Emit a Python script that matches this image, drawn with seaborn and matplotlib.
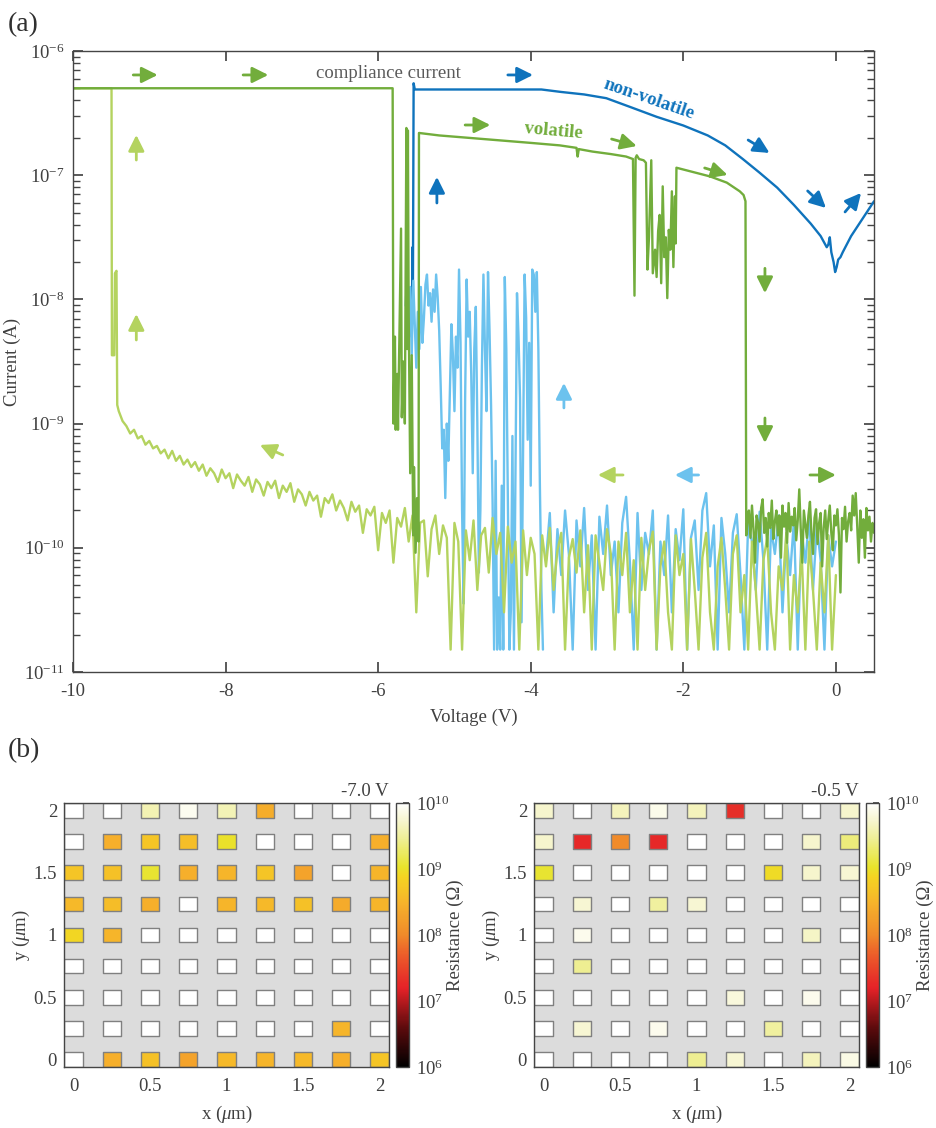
import numpy as np
import pandas as pd
import seaborn as sns
import matplotlib.pyplot as plt
from matplotlib.colors import LinearSegmentedColormap, LogNorm
from matplotlib.cm import ScalarMappable
from matplotlib.path import Path
from matplotlib import ticker

OUT_PATH = "out.png"

C_LG = "#b4d35f"   # light green
C_MG = "#72ad3c"   # green
C_LB = "#6cc2ee"   # light blue
C_DB = "#0f73bc"   # blue
TXT = "#404040"

# ---------------- panel (a): currents stored as log10(I / A) ----------------
# light green sweep, left end (jump to compliance)
LG_HEAD_V = [-10.0, -9.495, -9.49, -9.46, -9.45, -9.43, -9.42]
LG_HEAD_LOG = [-6.30, -6.30, -8.45, -8.45, -7.79, -7.77, -8.85]
# light green sweep, -9.40 V .. 0 V on a 0.05 V grid
LG_V0, LG_V1 = -9.40, 0.00
LG_LOG = [
    -8.90, -8.98, -9.02, -9.08, -9.05, -9.12, -9.10, -9.17, -9.14, -9.20,
    -9.18, -9.24, -9.21, -9.28, -9.22, -9.30, -9.26, -9.33, -9.29, -9.35,
    -9.31, -9.38, -9.33, -9.42, -9.36, -9.40, -9.47, -9.37, -9.44, -9.40,
    -9.52, -9.41, -9.46, -9.50, -9.43, -9.55, -9.45, -9.49, -9.58, -9.47,
    -9.52, -9.46, -9.60, -9.50, -9.55, -9.48, -9.63, -9.53, -9.57, -9.66,
    -9.55, -9.62, -9.58, -9.75, -9.60, -9.64, -9.57, -9.70, -9.62, -9.68,
    -9.78, -9.63, -9.71, -9.66, -9.88, -9.69, -9.74, -9.67, -10.02, -9.72,
    -9.80, -9.70, -10.12, -9.76, -9.83, -9.68, -9.95, -9.74, -10.52, -9.80,
    -9.78, -10.23, -9.85, -9.74, -10.05, -9.82, -9.92, -10.82, -9.80, -9.95,
    -10.82, -9.86, -10.10, -9.78, -10.34, -9.90, -9.84, -10.20, -9.76, -10.05,
    -9.88, -10.52, -9.83, -10.12, -9.95, -10.82, -9.86, -10.22, -9.92, -10.05,
    -10.82, -9.90, -10.15, -9.84, -10.34, -10.02, -9.88, -10.82, -10.08, -9.93,
    -10.20, -9.86, -10.52, -9.98, -10.82, -9.90, -10.12, -10.34, -9.85, -10.05,
    -10.82, -9.95, -10.22, -9.88, -10.52, -10.10, -10.82, -9.92, -10.34, -10.02,
    -9.87, -10.82, -10.15, -9.95, -10.52, -10.82, -9.90, -10.22, -10.05, -10.82,
    -9.93, -10.34, -10.82, -10.08, -9.88, -10.52, -10.82, -10.15, -9.92, -10.34,
    -10.82, -10.05, -9.90, -10.52, -10.22, -10.82, -9.95, -10.34, -10.82, -10.10,
    -9.92, -10.52, -10.82, -10.15, -10.34, -9.88, -10.82, -10.22, -10.52, -10.02,
    -10.82, -9.95, -10.34, -10.82, -10.12, -10.52, -9.90, -10.82, -10.22,
]

# light blue sweep: unstable part (0.02 V grid) then low-current part (0.05 V grid)
LB1_V0, LB1_V1 = -5.64, -3.84
LB1_LOG = [
    -8.05, -7.82, -8.30, -7.90, -8.45, -7.85, -8.20, -8.55, -8.10, -8.40,
    -7.90, -8.35, -8.15, -7.88, -7.80, -8.05, -7.95, -8.18, -7.92, -8.10,
    -7.80, -7.98, -8.25, -8.70, -9.20, -9.05, -9.60, -9.00, -9.30, -8.75,
    -8.20, -8.45, -8.90, -8.30, -8.55, -7.76, -8.35, -9.70, -10.45, -8.80,
    -7.84, -8.30, -8.10, -8.60, -9.40, -8.40, -8.06, -9.00, -10.20, -9.70,
    -8.55, -7.80, -8.40, -8.90, -7.78, -8.25, -8.85, -9.64, -10.82, -9.30,
    -10.82, -10.40, -10.82, -9.50, -10.82, -7.82, -8.40, -9.60, -10.82, -10.50,
    -9.10, -10.82, -9.40, -7.95, -8.30, -8.80, -10.60, -9.20, -7.80, -8.15,
    -9.13, -8.35, -9.50, -7.76, -7.80, -8.10, -7.78, -8.40, -9.50, -10.34,
    -10.82,
]
LB2_V0, LB2_V1 = -3.80, 0.00
LB2_LOG = [
    -10.10, -9.72, -10.52, -9.85, -10.22, -9.70, -10.05, -10.82, -9.78, -10.15,
    -9.68, -10.34, -9.90, -10.82, -9.75, -10.05, -9.66, -10.22, -9.95, -10.52,
    -9.80, -9.59, -10.12, -10.82, -9.72, -10.34, -9.88, -10.05, -9.70, -10.82,
    -9.95, -10.22, -9.74, -10.52, -9.85, -10.10, -9.69, -10.82, -9.92, -9.78,
    -10.34, -9.70, -9.56, -10.15, -9.82, -10.82, -9.76, -10.05, -10.52, -9.88,
    -9.73, -10.22, -10.82, -9.80, -9.95, -10.34, -9.71, -10.10, -10.82, -9.84,
    -10.05, -9.74, -10.52, -9.90, -10.22, -9.78, -10.82, -9.86, -10.12, -9.75,
    -10.34, -9.82, -10.10, -10.82, -9.90, -10.15, -9.95,
]

# blue (non-volatile) return sweep
DB_V = [-5.56, -5.55, -5.545, -5.535, -5.52, -3.86, -3.60, -3.30, -3.01, -2.70,
        -2.35, -2.00, -1.68, -1.45, -1.22, -1.00, -0.77, -0.55, -0.33, -0.20,
        -0.12, -0.10, -0.08, -0.06, -0.03, -0.01, 0.01, 0.03, 0.06, 0.09,
        0.20, 0.35, 0.50]
DB_LOG = [-8.30, -7.58, -8.05, -6.26, -6.31, -6.31, -6.33, -6.35, -6.38, -6.45,
          -6.53, -6.60, -6.68, -6.76, -6.87, -6.98, -7.10, -7.24, -7.39, -7.49,
          -7.58, -7.56, -7.50, -7.62, -7.70, -7.78, -7.74, -7.68, -7.66, -7.62,
          -7.49, -7.35, -7.21]

# green (volatile) return sweep: compliance, switching, volatile branch
MG_V = [-10.0, -5.81, -5.80, -5.78, -5.77, -5.75, -5.74, -5.72, -5.70, -5.69,
        -5.67, -5.65, -5.63, -5.62, -5.61, -5.60, -5.58, -5.56, -5.54, -5.53,
        -5.51, -5.49, -5.47, -5.465, -5.20, -4.80, -4.40, -4.00, -3.62, -3.40,
        -3.385, -3.37, -3.19, -2.95, -2.75, -2.66, -2.64, -2.625, -2.61, -2.58,
        -2.52, -2.49, -2.47, -2.45, -2.42, -2.40, -2.37, -2.35, -2.33, -2.31,
        -2.29, -2.27, -2.25, -2.23, -2.21, -2.19, -2.17, -2.15, -2.13, -2.11,
        -2.10, -2.09, -1.90, -1.65, -1.43, -1.26, -1.21, -1.185, -1.175]
MG_LOG = [-6.30, -6.30, -9.00, -8.30, -9.05, -8.60, -9.05, -8.25, -7.43, -8.95,
          -8.50, -9.00, -6.62, -8.40, -6.64, -8.10, -9.40, -8.45, -9.90, -9.35,
          -10.04, -9.60, -9.95, -6.66, -6.68, -6.70, -6.72, -6.74, -6.76, -6.78,
          -6.85, -6.79, -6.81, -6.83, -6.85, -6.87, -7.97, -6.86, -6.84, -6.87,
          -6.88, -6.90, -7.76, -7.50, -6.88, -7.79, -7.60, -7.82, -7.45, -7.32,
          -7.87, -7.09, -7.66, -7.50, -7.99, -7.44, -7.60, -7.13, -7.74, -7.17,
          -7.55, -6.94, -6.97, -7.01, -7.06, -7.13, -7.16, -7.21, -9.90]
# green low-current tail, -1.16 V .. 0.5 V on a 0.02 V grid
MG2_V0, MG2_V1 = -1.16, 0.50
MG2_LOG = [
    -9.78, -9.70, -9.92, -9.66, -9.85, -10.12, -9.74, -9.80, -9.95, -9.68,
    -9.61, -9.88, -9.76, -9.99, -9.72, -9.84, -9.62, -9.93, -9.79, -9.70,
    -9.90, -9.74, -10.08, -9.66, -9.83, -9.72, -9.96, -9.64, -9.87, -9.75,
    -9.82, -9.68, -9.94, -9.78, -9.53, -9.86, -10.12, -9.70, -9.81, -9.92,
    -9.74, -9.63, -9.89, -10.05, -9.76, -9.69, -9.97, -9.80, -9.72, -10.15,
    -9.84, -9.70, -9.93, -9.78, -9.66, -9.88, -10.02, -9.74, -9.82, -9.69,
    -9.90, -10.36, -9.76, -9.85, -9.67, -9.95, -9.79, -9.72, -9.86, -9.58,
    -9.74, -9.56, -9.83, -10.12, -9.70, -9.92, -9.77, -10.08, -9.68, -9.86,
    -9.75, -9.95, -9.80, -9.88,
]

# sweep-direction arrows: (V tail, logI tail, V head, logI head, colour)
ARROWS = [
    (-9.21, -6.193, -8.89, -6.193, C_MG), (-7.77, -6.193, -7.44, -6.193, C_MG),
    (-4.30, -6.193, -3.97, -6.193, C_DB), (-4.86, -6.596, -4.53, -6.596, C_MG),
    (-2.94, -6.709, -2.61, -6.765, C_MG), (-1.72, -6.942, -1.42, -6.998, C_MG),
    (-1.15, -6.717, -0.87, -6.821, C_DB), (-0.37, -7.127, -0.13, -7.264, C_DB),
    (0.12, -7.296, 0.33, -7.143, C_DB), (-5.23, -7.224, -5.23, -7.014, C_DB),
    (-9.17, -6.878, -9.17, -6.676, C_LG), (-9.17, -8.327, -9.17, -8.118, C_LG),
    (-7.25, -9.253, -7.55, -9.172, C_LG), (-0.93, -7.75, -0.93, -7.95, C_MG),
    (-0.93, -8.955, -0.93, -9.156, C_MG), (-2.79, -9.414, -3.12, -9.414, C_LG),
    (-1.80, -9.414, -2.11, -9.414, C_LB), (-3.565, -8.874, -3.565, -8.673, C_LB),
    (-0.34, -9.414, 0.0, -9.414, C_MG),
]

# ---------------- panel (b): log10 resistance maps, rows y = 2 .. 0 ----------------
GRID_X = [0.0, 0.25, 0.5, 0.75, 1.0, 1.25, 1.5, 1.75, 2.0]
GRID_Y = [2.0, 1.75, 1.5, 1.25, 1.0, 0.75, 0.5, 0.25, 0.0]
LOGR_M7V = [
    [10.0, 10.0, 9.60, 9.92, 9.62, 8.42, 10.0, 10.0, 10.0],
    [10.0, 8.45, 8.70, 8.62, 9.00, 10.0, 10.0, 10.0, 8.45],
    [8.70, 8.65, 9.05, 8.45, 8.50, 8.70, 8.30, 10.0, 8.50],
    [8.55, 8.60, 8.45, 10.0, 8.50, 8.55, 8.65, 8.40, 8.50],
    [8.90, 8.50, 10.0, 10.0, 10.0, 10.0, 10.0, 10.0, 10.0],
    [10.0, 10.0, 10.0, 10.0, 10.0, 10.0, 10.0, 10.0, 10.0],
    [10.0, 10.0, 10.0, 10.0, 10.0, 10.0, 10.0, 10.0, 10.0],
    [10.0, 10.0, 10.0, 10.0, 10.0, 10.0, 10.0, 8.50, 10.0],
    [10.0, 8.45, 8.65, 8.30, 8.55, 8.50, 8.55, 8.45, 8.70],
]
LOGR_M05V = [
    [9.72, 10.0, 9.65, 9.88, 9.65, 7.30, 10.0, 10.0, 9.72],
    [9.72, 7.25, 8.00, 7.25, 10.0, 10.0, 10.0, 9.72, 9.35],
    [9.05, 10.0, 10.0, 10.0, 10.0, 10.0, 8.95, 9.72, 9.75],
    [10.0, 9.75, 10.0, 9.50, 9.75, 10.0, 10.0, 10.0, 10.0],
    [10.0, 9.90, 10.0, 10.0, 10.0, 10.0, 10.0, 9.70, 10.0],
    [10.0, 9.45, 10.0, 10.0, 10.0, 10.0, 10.0, 10.0, 10.0],
    [10.0, 10.0, 10.0, 10.0, 10.0, 9.80, 10.0, 9.90, 10.0],
    [10.0, 9.75, 10.0, 9.90, 10.0, 10.0, 9.50, 10.0, 10.0],
    [10.0, 10.0, 10.0, 10.0, 9.45, 9.75, 10.0, 9.65, 9.85],
]
MAP_TITLES = ["-7.0 V", "-0.5 V"]

CMAP = LinearSegmentedColormap.from_list("res", [
    (0.00, "#000000"), (0.15, "#5e0b0d"), (0.30, "#e52228"), (0.42, "#ec5a2a"),
    (0.50, "#f08a2a"), (0.62, "#f6b22b"), (0.72, "#f4d422"), (0.76, "#e8e42c"),
    (0.86, "#eeee90"), (0.94, "#f7f6d2"), (1.00, "#ffffff")])


def trace(ax, v, logi, color):
    sns.lineplot(x=np.asarray(v, float), y=10.0 ** np.asarray(logi, float),
                 color=color, lw=1.7, sort=False, estimator=None, ax=ax)


def grid_frame(logr):
    rows = []
    for yy, row in zip(GRID_Y, logr):
        for xx, val in zip(GRID_X, row):
            rows.append({"x": xx, "y": yy, "logR": val})
    return pd.DataFrame(rows)


def main():
    sns.set_theme(style="ticks")
    plt.rcParams.update({
        "font.family": ["Liberation Serif", "DejaVu Serif"],
        "mathtext.fontset": "custom",
        "mathtext.rm": "Liberation Serif",
        "mathtext.it": "Liberation Serif:italic",
        "mathtext.bf": "Liberation Serif:bold",
        "font.size": 13.5,
        "axes.labelsize": 13.5,
        "xtick.labelsize": 13.5,
        "ytick.labelsize": 13.5,
        "axes.edgecolor": "#454545",
        "axes.linewidth": 1.0,
        "axes.labelcolor": TXT,
        "text.color": TXT,
        "xtick.color": "#454545",
        "ytick.color": "#454545",
        "xtick.labelcolor": TXT,
        "ytick.labelcolor": TXT,
        "xtick.direction": "in",
        "ytick.direction": "in",
    })

    fig = plt.figure(figsize=(9.37, 11.28), dpi=100)

    # ---- (a) ----
    ax = fig.add_axes([0.0779, 0.4043, 0.8549, 0.5505])
    ax.set_yscale("log")
    trace(ax, DB_V, DB_LOG, C_DB)
    trace(ax, np.linspace(LB1_V0, LB1_V1, len(LB1_LOG)), LB1_LOG, C_LB)
    trace(ax, np.linspace(LB2_V0, LB2_V1, len(LB2_LOG)), LB2_LOG, C_LB)
    lg_v = np.concatenate([LG_HEAD_V, np.linspace(LG_V0, LG_V1, len(LG_LOG))])
    trace(ax, lg_v, LG_HEAD_LOG + LG_LOG, C_LG)
    mg_v = np.concatenate([MG_V, np.linspace(MG2_V0, MG2_V1, len(MG2_LOG))])
    trace(ax, mg_v, MG_LOG + MG2_LOG, C_MG)

    for v0, l0, v1, l1, c in ARROWS:
        ax.annotate("", xy=(v1, 10 ** l1), xytext=(v0, 10 ** l0),
                    arrowprops=dict(arrowstyle="-|>,head_length=0.6,head_width=0.3",
                                    color=c, lw=2.0, shrinkA=0, shrinkB=0,
                                    mutation_scale=16))

    ax.text(-5.865, 10 ** -6.185, "compliance current", color="#5a5a5a",
            ha="center", va="center", fontsize=13.5)
    ax.text(-2.45, 10 ** -6.39, "non-volatile", color=C_DB, fontweight="bold",
            ha="center", va="center", rotation=-19, fontsize=13.5)
    ax.text(-3.70, 10 ** -6.644, "volatile", color=C_MG, fontweight="bold",
            ha="center", va="center", rotation=-5, fontsize=13.5)

    ax.set_xlim(-10, 0.5)
    ax.set_ylim(1e-11, 1e-6)
    ax.set_xticks([-10, -8, -6, -4, -2, 0])
    ax.set_xticklabels(["-10", "-8", "-6", "-4", "-2", "0"])
    ax.tick_params(axis="both", which="both", top=True, right=True)
    ax.tick_params(axis="x", which="major", length=7, pad=8)
    ax.tick_params(axis="y", which="major", length=7, pad=6)
    ax.tick_params(axis="y", which="minor", length=5)
    ax.set_xlabel("Voltage (V)", labelpad=6)
    ax.set_ylabel("Current (A)", labelpad=2)
    for s in ax.spines.values():
        s.set_visible(True)

    fig.text(0.008, 0.978, "(a)", fontsize=20, va="center", ha="left", color="#303030")
    fig.text(0.008, 0.335, "(b)", fontsize=20, va="center", ha="left", color="#303030")

    # ---- (b) ----
    cell = Path([(-1, -0.812), (1, -0.812), (1, 0.812), (-1, 0.812), (-1, -0.812)],
                closed=True)
    lefts = [0.0683, 0.5699]
    cb_lefts = [0.4226, 0.9242]
    for logr, title, left, cbl in zip([LOGR_M7V, LOGR_M05V], MAP_TITLES, lefts, cb_lefts):
        axm = fig.add_axes([left, 0.0541, 0.3469, 0.2340])
        axm.set_facecolor("#dcdcdc")
        sns.scatterplot(data=grid_frame(logr), x="x", y="y", hue="logR",
                        palette=CMAP, hue_norm=(6, 10), marker=cell, s=172,
                        edgecolor="#808080", linewidth=1.0, legend=False, ax=axm)
        axm.set_xlim(-0.0625, 2.0625)
        axm.set_ylim(-0.0625, 2.0625)
        ticks = [0, 0.5, 1, 1.5, 2]
        axm.set_xticks(ticks)
        axm.set_yticks(ticks)
        fmt = ticker.FuncFormatter(lambda v, p: f"{v:g}")
        axm.xaxis.set_major_formatter(fmt)
        axm.yaxis.set_major_formatter(fmt)
        axm.tick_params(axis="both", top=True, right=True, length=4)
        axm.tick_params(axis="x", pad=8)
        axm.tick_params(axis="y", pad=5)
        axm.set_xlabel(r"x ($\mu$m)", labelpad=6)
        axm.set_ylabel(r"y ($\mu$m)", labelpad=1)
        for s in axm.spines.values():
            s.set_visible(True)
        axm.text(1.0, 1.012, title, transform=axm.transAxes, ha="right", va="bottom",
                 fontsize=13.5)

        cax = fig.add_axes([cbl, 0.0541, 0.0139, 0.2340])
        cb = fig.colorbar(ScalarMappable(norm=LogNorm(1e6, 1e10), cmap=CMAP), cax=cax)
        cb.outline.set_edgecolor("#454545")
        cb.outline.set_linewidth(1.0)
        cb.ax.minorticks_on()
        cb.ax.tick_params(which="major", direction="in", length=4, pad=5)
        cb.ax.tick_params(which="minor", direction="in", length=2)
        cb.set_label("Resistance (Ω)", labelpad=-2)

    fig.savefig(OUT_PATH, dpi=100)
    print(f"saved to {OUT_PATH}")


if __name__ == "__main__":
    main()
